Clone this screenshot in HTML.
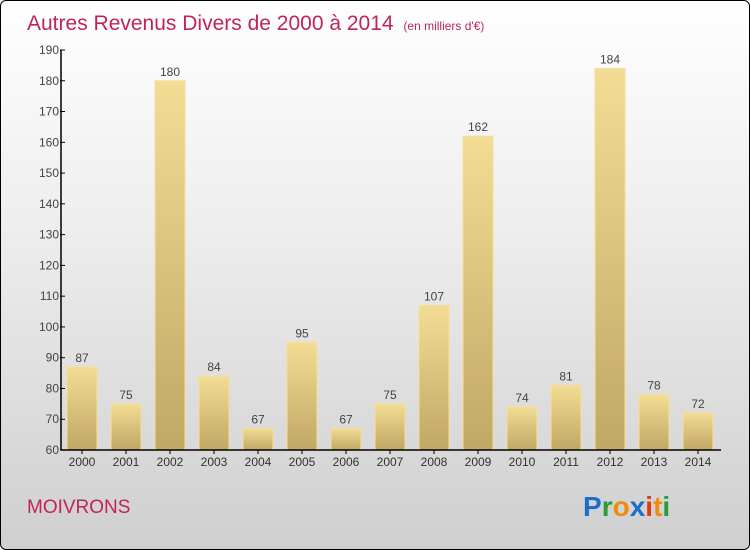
<!DOCTYPE html>
<html><head><meta charset="utf-8"><style>
body{margin:0;}
#wrap{position:relative;width:748px;height:548px;border:1px solid #000;border-radius:6px;overflow:hidden;background:linear-gradient(#ffffff 0%,#eeeeee 40%,#cfcfcf 100%);font-family:"Liberation Sans",sans-serif;}
</style></head><body>
<div id="wrap">
<svg id="chart" width="748" height="548">
<defs><linearGradient id="bg" x1="0" y1="0" x2="0" y2="1"><stop offset="0" stop-color="#f3dc94"/><stop offset="1" stop-color="#c0a865"/></linearGradient></defs>
<text x="26" y="29" font-size="21" fill="#c0245a">Autres Revenus Divers de 2000 à 2014 <tspan font-size="12" dx="4">(en milliers d'€)</tspan></text>
<text x="26" y="512" font-size="19" fill="#c0245a">MOIVRONS</text>
<g font-size="28" font-weight="bold" font-family="'Liberation Sans',sans-serif">
<text x="582" y="515"><tspan fill="#1a6fc8">P</tspan><tspan fill="#2a9a3a">r</tspan><tspan fill="#f08a10">o</tspan><tspan fill="#1a6fc8">x</tspan><tspan fill="#e03a10">i</tspan><tspan fill="#f08a10">t</tspan><tspan fill="#2a9a3a">i</tspan></text>
</g>
<g id="bars"></g><g id="axes"></g>
</svg>
</div>
<script>
const years=["2000","2001","2002","2003","2004","2005","2006","2007","2008","2009","2010","2011","2012","2013","2014"];
const values=[87,75,180,84,67,95,67,75,107,162,74,81,184,78,72];
const yTicks=[60,70,80,90,100,110,120,130,140,150,160,170,180,190];
const ns="http://www.w3.org/2000/svg";
const y0=449,yTop=49,vMin=60,vMax=190,axX=60;
function ys(v){return y0-(v-vMin)/(vMax-vMin)*(y0-yTop);}
function xs(i){return axX+6+i*44;}
function mk(t,a,p){const e=document.createElementNS(ns,t);for(const k in a)e.setAttribute(k,a[k]);p.appendChild(e);return e;}
const bars=document.getElementById('bars'),axes=document.getElementById('axes');
values.forEach((v,i)=>{
 const r=mk('rect',{x:xs(i),y:ys(v),width:30,height:y0-ys(v),fill:'url(#bg)',stroke:'#f5e09a','stroke-width':1},bars);
 
 
 const t=mk('text',{x:xs(i)+15,y:ys(v)-5,'text-anchor':'middle','font-size':12,fill:'#444'},bars);t.textContent=v;
 
 
 const l=mk('text',{x:xs(i)+15,y:y0+16,'text-anchor':'middle','font-size':12,fill:'#333'},axes);l.textContent=years[i];
 
 
 mk('line',{x1:xs(i)+15,x2:xs(i)+15,y1:y0,y2:y0+4,stroke:'#000'},axes);
});
const ya=mk('line',{x1:axX,x2:axX,y1:yTop,y2:y0,stroke:'#000','stroke-width':1.5},axes);


const xa=mk('line',{x1:axX,x2:720,y1:y0,y2:y0,stroke:'#000','stroke-width':1.5},axes);


yTicks.forEach(v=>{
 mk('line',{x1:axX-1,x2:axX+4,y1:ys(v),y2:ys(v),stroke:'#000'},axes);
 const t=mk('text',{x:axX-2,y:ys(v)+4,'text-anchor':'end','font-size':12,fill:'#444'},axes);t.textContent=v;
 
 
});
</script>
</body></html>
